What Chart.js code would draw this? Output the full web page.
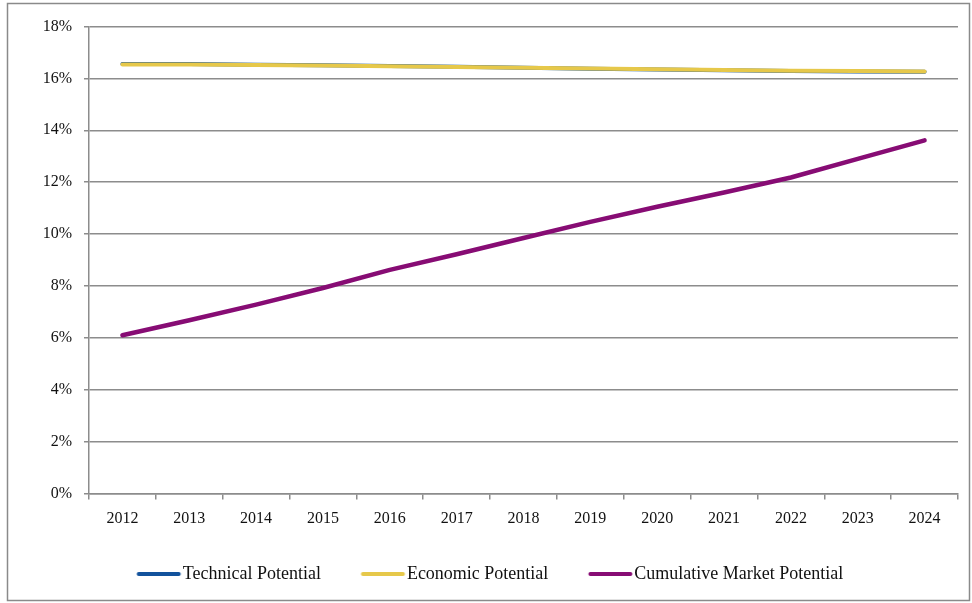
<!DOCTYPE html>
<html>
<head>
<meta charset="utf-8">
<script src="https://cdn.jsdelivr.net/npm/chart.js@4/dist/chart.umd.min.js"></script>
<style>
html,body{margin:0;padding:0;background:#fff;}
#wrap{position:relative;width:972px;height:603px;}
</style>
</head>
<body>
<div id="wrap"><canvas id="c" width="972" height="603"></canvas></div>
<script>
const years = ["2012","2013","2014","2015","2016","2017","2018","2019","2020","2021","2022","2023","2024"];
const technicalPotential = [16.55,16.55,16.53,16.51,16.48,16.45,16.41,16.37,16.34,16.31,16.28,16.27,16.26];
const economicPotential  = [16.54,16.54,16.52,16.50,16.47,16.44,16.41,16.38,16.35,16.32,16.29,16.28,16.27];
const cumulativeMarketPotential = [6.10,6.68,7.28,7.92,8.62,9.22,9.85,10.47,11.05,11.60,12.18,12.90,13.61];
const yTicks = [0,2,4,6,8,10,12,14,16,18];

const FONT = "'Liberation Serif', 'Times New Roman', serif";
Chart.defaults.font.family = FONT;
Chart.defaults.font.size = 16;
Chart.defaults.color = "#111";

function lineSample(color) {
  const c = document.createElement('canvas');
  c.width = 64; c.height = 6;
  const g = c.getContext('2d');
  g.strokeStyle = color; g.lineWidth = 4; g.lineCap = 'round';
  g.beginPath(); g.moveTo(20.5, 3); g.lineTo(60.5, 3); g.stroke();
  return c;
}

const borderPlugin = {
  id: 'outerBorder',
  beforeDraw(chart) {
    const ctx = chart.ctx;
    ctx.save();
    ctx.fillStyle = '#fff';
    ctx.fillRect(0,0,chart.width,chart.height);
    ctx.strokeStyle = '#8a8a8a';
    ctx.lineWidth = 1.5;
    ctx.strokeRect(7.5, 3.5, 962, 597);
    ctx.restore();
  }
};

new Chart(document.getElementById('c'), {
  type: 'line',
  data: {
    labels: years,
    datasets: [
      { label: 'Technical Potential', data: technicalPotential, order: 3, borderColor: '#12529c', backgroundColor: '#12529c', borderWidth: 4, pointRadius: 0, tension: 0, borderCapStyle: 'round', borderJoinStyle: 'round' },
      { label: 'Economic Potential', data: economicPotential, order: 2, borderColor: '#e6c84a', backgroundColor: '#e6c84a', borderWidth: 4, pointRadius: 0, tension: 0, borderCapStyle: 'round', borderJoinStyle: 'round' },
      { label: 'Cumulative Market Potential', data: cumulativeMarketPotential, order: 1, borderColor: '#870c74', backgroundColor: '#870c74', borderWidth: 4.5, pointRadius: 0, tension: 0, borderCapStyle: 'round', borderJoinStyle: 'round' }
    ]
  },
  options: {
    responsive: false,
    animation: false,
    layout: { padding: { left: 12, right: 14, top: 26.5, bottom: 10 } },
    plugins: {
      legend: {
        position: 'bottom',
        labels: {
          usePointStyle: true,
          pointStyleWidth: 47,
          boxHeight: 4,
          padding: 30,
          color: '#111',
          font: { family: FONT, size: 18 },
          sort: (a, b) => a.datasetIndex - b.datasetIndex,
          generateLabels(chart) {
            return chart.data.datasets.map((ds, i) => ({
              text: ds.label,
              datasetIndex: i,
              fillStyle: ds.borderColor,
              strokeStyle: ds.borderColor,
              lineWidth: 0,
              hidden: false,
              fontColor: '#111',
              pointStyle: lineSample(ds.borderColor)
            }));
          }
        }
      },
      tooltip: { enabled: false }
    },
    scales: {
      x: {
        offset: true,
        grid: { offset: true, drawOnChartArea: false, drawTicks: true, tickLength: 6, color: '#8c8c8c', lineWidth: 1.5 },
        border: { display: true, color: '#8c8c8c', width: 1.5 },
        ticks: { padding: 10, color: '#111', font: { family: FONT, size: 16 }, maxRotation: 0 },
        afterFit(scale) { scale.height = 41.5; }
      },
      y: {
        min: 0, max: 18,
        afterBuildTicks(scale) { scale.ticks = yTicks.map(v => ({ value: v })); },
        grid: { color: '#8c8c8c', lineWidth: 1.5, drawTicks: true, tickLength: 5 },
        border: { display: true, color: '#8c8c8c', width: 1.5 },
        ticks: { padding: 12, color: '#111', font: { family: FONT, size: 16 }, callback: v => v + '%' },
        afterFit(scale) { scale.width = 77; }
      }
    }
  },
  plugins: [borderPlugin]
});
</script>
</body>
</html>
